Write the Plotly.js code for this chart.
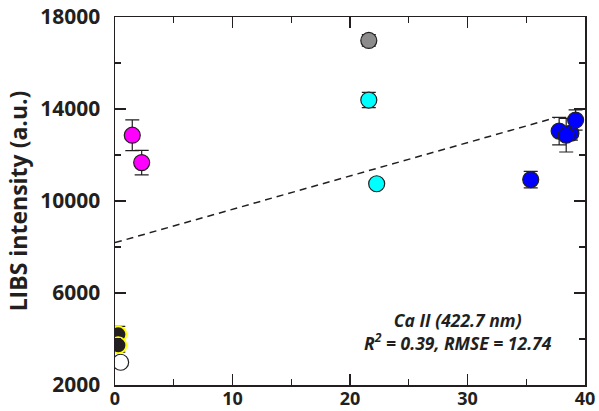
<!DOCTYPE html>
<html>
<head>
<meta charset="utf-8">
<script src="https://cdn.plot.ly/plotly-3.0.1.min.js"></script>
<style>html,body{margin:0;padding:0;background:#fff;}#chart{width:599px;height:411px;}</style>
</head>
<body>
<div id="chart"></div>
<script>
// Data
const blackX = [0.28, 0.28];
const blackY = [4200, 3730];
const blackErr = [350, 300];

const whiteX = [0.48];
const whiteY = [2990];
const whiteErr = [0];

const magentaX = [1.47, 2.27];
const magentaY = [12860, 11670];
const magentaErr = [670, 530];

const grayX = [21.6];
const grayY = [16980];
const grayErr = [250];

const cyanX = [21.6, 22.27];
const cyanY = [14390, 10750];
const cyanErr = [330, 0];

const blueX = [35.38, 37.8, 38.8, 39.2, 38.4];
const blueY = [10930, 13040, 12950, 13520, 12860];
const blueErr = [360, 600, 300, 440, 730];

const fitX = [0, 37.4];
const fitY = [8190, 13610];

const xTicks = [0, 10, 20, 30, 40];
const yTicks = [2000, 6000, 10000, 14000, 18000];

const annText = 'Ca II (422.7 nm)<br>R<sup>2</sup> = 0.39, RMSE = 12.74';

const ink = '#231f20';
const FONT = 'Open Sans, Liberation Sans, sans-serif';

function pts(x, y, err, fill, edge, edgeW) {
  return {
    type: 'scatter', mode: 'markers', x: x, y: y,
    error_y: {type: 'data', array: err, visible: true, color: ink, thickness: 1.2, width: 7},
    marker: {size: 16, color: fill, line: {color: edge, width: edgeW}},
    hoverinfo: 'skip', showlegend: false
  };
}

const traces = [
  {type: 'scatter', mode: 'lines', x: fitX, y: fitY,
   line: {color: ink, width: 1.5, dash: '7px,5px'}, hoverinfo: 'skip', showlegend: false},
  pts(whiteX, whiteY, whiteErr, '#ffffff', ink, 1.2),
  pts(blackX, blackY, blackErr, '#231f20', '#ffff00', 1.8),
  pts(magentaX, magentaY, magentaErr, '#ff00ff', ink, 1.2),
  pts(grayX, grayY, grayErr, '#8c8c8c', ink, 1.2),
  pts(cyanX, cyanY, cyanErr, '#00ffff', ink, 1.2),
  pts(blueX, blueY, blueErr, '#0000ff', ink, 1.2)
];

const axisCommon = {
  showline: true, linecolor: ink, linewidth: 1.5, mirror: 'ticks',
  ticks: 'inside', ticklen: 11, tickwidth: 1.3, tickcolor: ink,
  showgrid: false, zeroline: false,
  tickfont: {family: FONT, size: 21, color: ink, weight: 'bold'}
};

const layout = {
  width: 599, height: 411,
  margin: {l: 115, r: 14, t: 17, b: 26},
  paper_bgcolor: '#ffffff', plot_bgcolor: '#ffffff',
  xaxis: Object.assign({}, axisCommon, {
    range: [0, 40], tickvals: xTicks, ticktext: xTicks.map(String),
    minor: {dtick: 5, tick0: 0, ticks: 'inside', ticklen: 6, tickwidth: 1.3, tickcolor: ink, showgrid: false},
    tickfont: {family: FONT, size: 18, color: ink, weight: 'bold'},
    ticklabelstandoff: -3
  }),
  yaxis: Object.assign({}, axisCommon, {
    range: [2000, 18000], tickvals: yTicks, ticktext: yTicks.map(String),
    minor: {dtick: 2000, tick0: 0, ticks: 'inside', ticklen: 6, tickwidth: 1.3, tickcolor: ink, showgrid: false},
    ticklabelstandoff: 9,
    title: {text: 'LIBS intensity (a.u.)', font: {family: FONT, size: 23, color: ink, weight: 'bold'}, standoff: 6}
  }),
  annotations: [
    {xref: 'x', yref: 'y', x: 29.2, y: 4330, text: annText, showarrow: false,
     xanchor: 'center', yanchor: 'middle', align: 'center',
     font: {family: FONT, size: 17.5, color: ink, weight: 'bold', style: 'italic'}}
  ]
};

Plotly.newPlot('chart', traces, layout, {displayModeBar: false, staticPlot: true});
</script>
</body>
</html>
